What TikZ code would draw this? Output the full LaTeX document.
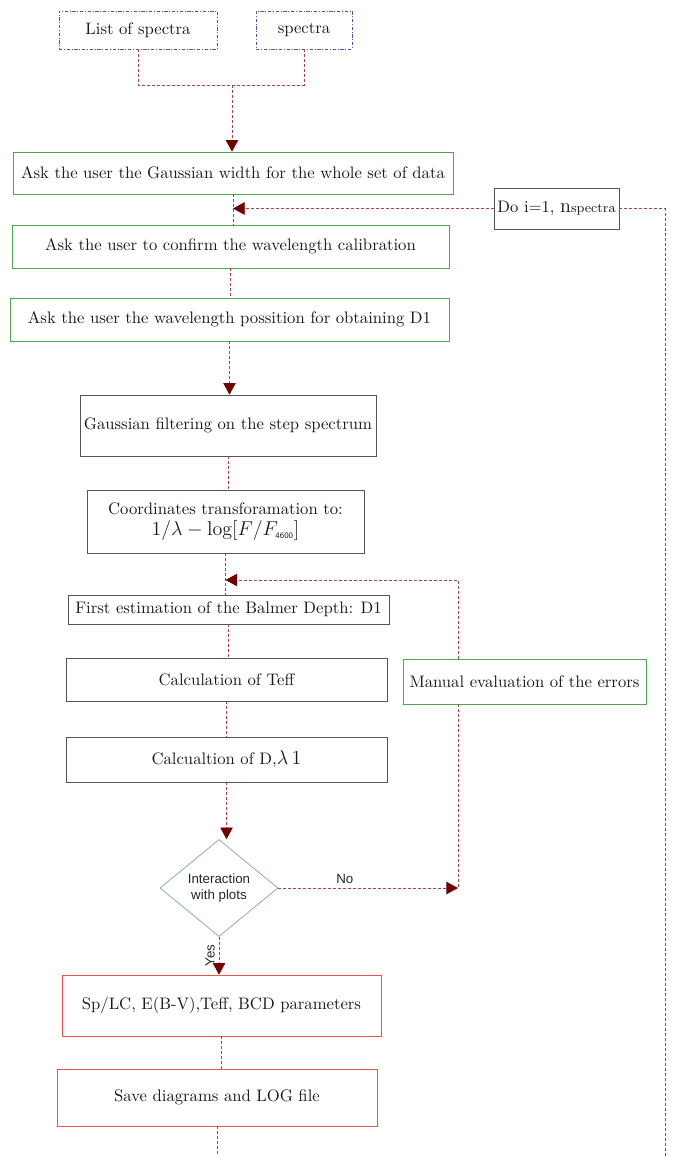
\documentclass[tikz,border=0pt]{standalone}
\usepackage{fontspec}
\newfontfamily\plotfont{Liberation Sans}
\usepackage{tikz}
\usetikzlibrary{arrows.meta,shapes.geometric,calc}
\usepackage{amsmath}
\definecolor{linkred}{RGB}{175,65,65}
\definecolor{tipred}{RGB}{115,0,0}
\definecolor{boxgreen}{RGB}{80,165,80}
\definecolor{boxred}{RGB}{240,80,80}
\definecolor{boxgray}{RGB}{85,85,85}
\definecolor{boxblue}{RGB}{80,80,170}
\definecolor{diablue}{RGB}{125,155,205}
\tikzset{
  box/.style={draw, rectangle, text=black!90, align=center, inner sep=2pt},
  greenbox/.style={box, draw=boxgreen},
  redbox/.style={box, draw=boxred},
  graybox/.style={box, draw=boxgray},
  inbox/.style={box, draw=boxblue, dash pattern=on 2pt off 1pt on 0.6pt off 1pt},
  link/.style={draw=linkred, dash pattern=on 1.8pt off 1.2pt, line width=0.5pt},
  tip/.style={-{Triangle[width=7.5pt,length=7pt,color=tipred]}}
}
\begin{document}
\begin{tikzpicture}[x=0.6pt, y=-0.6pt]
\useasboundingbox (0,0) rectangle (675,1156);
\node[inbox, minimum width=94.8pt, minimum height=22.8pt] (list) at (138,30) {List of spectra};
\node[inbox, minimum width=57.6pt, minimum height=22.8pt] (spec) at (304,30) {spectra};
\node[greenbox, minimum width=264pt, minimum height=25.2pt] (b1) at (233,173) {Ask the user the Gaussian width for the whole set of data};
\node[greenbox, minimum width=262.2pt, minimum height=25.8pt] (b2) at (230.5,246.5) {Ask the user to confirm the wavelength calibration};
\node[greenbox, minimum width=263.4pt, minimum height=25.8pt] (b3) at (229.5,319.5) {Ask the user the wavelength possition for obtaining D1};
\node[graybox, minimum width=73.8pt, minimum height=24.6pt] (do) at (556.5,208.5) {Do i=1, {\large n}{\footnotesize spectra}};
\node[graybox, minimum width=177.6pt, minimum height=36.6pt] (b4) at (228,425.5) {Gaussian filtering on the step spectrum};
\node[graybox, minimum width=166.2pt, minimum height=37.8pt, inner sep=1pt] (b5) at (225.5,521.5) {Coordinates transforamation to:\\[1pt] {\large $1/\lambda-\log[F/F_{\textsf{\tiny 4600}}]$}};
\node[graybox, minimum width=192.6pt, minimum height=17.4pt] (b6) at (228.5,609.5) {First estimation of the Balmer Depth: D1};
\node[graybox, minimum width=192.6pt, minimum height=25.8pt] (b7) at (226.5,679.5) {Calculation of Teff};
\node[greenbox, minimum width=145.8pt, minimum height=27pt] (manual) at (524.5,681.5) {Manual evaluation of the errors};
\node[graybox, minimum width=192.6pt, minimum height=27pt] (b8) at (226.5,759.5) {Calcualtion of D,{\large $\lambda$\,1}};
\node[draw=diablue, diamond, aspect=1.22, minimum width=70.8pt, minimum height=58.2pt, inner sep=0pt, align=center, font=\plotfont\footnotesize, text=black!85] (dia) at (219,888) {Interaction\\with plots};
\node[redbox, minimum width=191.4pt, minimum height=36.6pt] (b9) at (221.5,1005.5) {Sp/LC, E(B-V),Teff, BCD parameters};
\node[redbox, minimum width=192pt, minimum height=34.2pt] (b10) at (217,1097.5) {Save diagrams and LOG file};
\coordinate (join) at (232,85);
\coordinate (back) at (458,580);
\coordinate (loopend) at (665,1156);
\coordinate (bottom) at (219,1156);
\draw[link] (list.south) |- (join) -| (spec.south);
\draw[link, tip] (join) -- (join |- b1.north);
\draw[link] (b1.south) -- (b1.south |- b2.north);
\draw[link, tip] (do.west) -- (do.west -| b1.south);
\draw[link] (do.east) -| (loopend);
\draw[link] (b2.south) -- (b2.south |- b3.north);
\draw[link, tip] (b3.south) -- (b3.south |- b4.north);
\draw[link] (b4.south) -- (b4.south |- b5.north);
\draw[link] (b5.south) -- (b5.south |- b6.north);
\draw[link, tip] (back |- manual.north) -- (back) -- (back -| b5.south);
\draw[link] (b6.south) -- (b6.south |- b7.north);
\draw[link] (b7.south) -- (b7.south |- b8.north);
\draw[link, tip] (b8.south) -- (b8.south |- dia.north);
\draw[link] (back |- manual.south) -- (back |- dia.east);
\draw[link, tip] (dia.east) -- (dia.east -| back) node[pos=0.37, above=-1pt, font=\plotfont\footnotesize, text=black!85] {No};
\draw[link, tip] (dia.south) -- (dia.south |- b9.north) node[midway, rotate=90, above=-1pt, font=\plotfont\footnotesize, text=black!85] {Yes};
\draw[link] (b9.south) -- (b9.south |- b10.north);
\draw[link] (b10.south) -- (b10.south |- bottom);
\end{tikzpicture}
\end{document}
